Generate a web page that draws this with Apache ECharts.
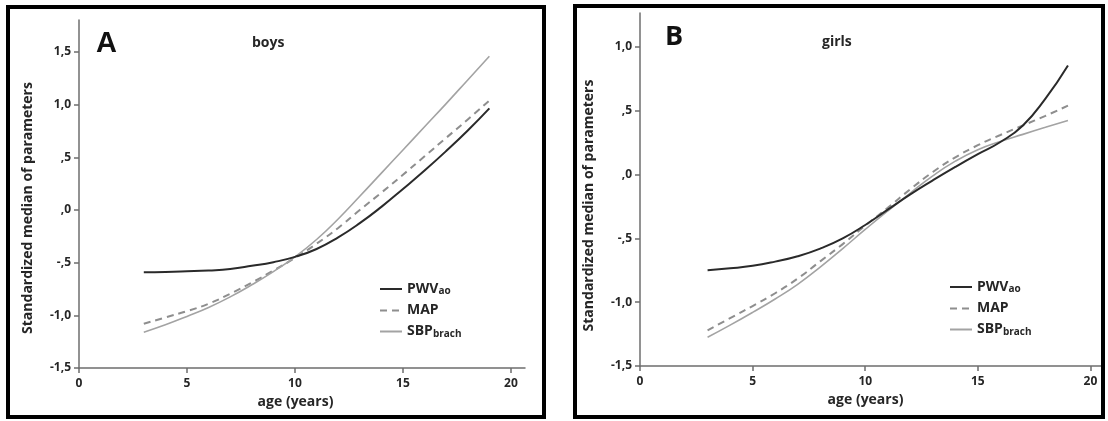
<!DOCTYPE html>
<html>
<head>
<meta charset="utf-8">
<script src="https://cdn.jsdelivr.net/npm/echarts@6/dist/echarts.min.js"></script>
<style>
html,body{margin:0;padding:0;background:#fff;}
#chart{width:1108px;height:421px;}
</style>
</head>
<body>
<div id="chart"></div>
<script>
// ---- data ----
const ages      = [3, 4, 5, 6, 7, 8, 9, 10, 11, 12, 13, 14, 15, 16, 17, 18, 19];
const boysPWV   = [-0.59, -0.588, -0.582, -0.574, -0.56, -0.53, -0.495, -0.445, -0.37, -0.26, -0.125, 0.03, 0.2, 0.375, 0.56, 0.755, 0.965];
const boysMAP   = [-1.08, -1.02, -0.96, -0.89, -0.795, -0.69, -0.575, -0.455, -0.32, -0.17, 0.0, 0.165, 0.335, 0.51, 0.685, 0.86, 1.04];
const boysSBP   = [-1.16, -1.09, -1.01, -0.925, -0.825, -0.71, -0.585, -0.445, -0.28, -0.085, 0.13, 0.35, 0.57, 0.79, 1.01, 1.235, 1.46];
const girlsPWV  = [-0.75, -0.735, -0.715, -0.682, -0.64, -0.58, -0.50, -0.395, -0.275, -0.155, -0.045, 0.06, 0.16, 0.255, 0.385, 0.595, 0.855];
const girlsMAP  = [-1.22, -1.125, -1.03, -0.93, -0.815, -0.68, -0.545, -0.40, -0.26, -0.115, 0.02, 0.135, 0.23, 0.31, 0.385, 0.46, 0.54];
const girlsSBP  = [-1.275, -1.18, -1.08, -0.975, -0.86, -0.725, -0.58, -0.43, -0.285, -0.145, -0.01, 0.105, 0.195, 0.26, 0.315, 0.37, 0.423];
const xTicks    = [0, 5, 10, 15, 20];
const boysYTicks  = [-1.5, -1.0, -0.5, 0, 0.5, 1.0, 1.5];
const girlsYTicks = [-1.5, -1.0, -0.5, 0, 0.5, 1.0];
const seriesNames = ['PWV', 'MAP', 'SBP'];
const legendLabels = { PWV: 'PWV{s|ao}', MAP: 'MAP', SBP: 'SBP{s|brach}' };
const panelLetters = ['A', 'B'];
const panelTitles = ['boys', 'girls'];
const yTitle = 'Standardized median of parameters';
const xTitle = 'age (years)';

// ---- helpers ----
const pair = (xs, ys) => xs.map((x, i) => [x, ys[i]]);
const fmtY = v => {
  let s = Math.abs(v).toFixed(1).replace('.', ',');
  if (s.startsWith('0')) s = s.slice(1);
  return (v < 0 ? '-' : '') + s;
};
const FONT = '"Open Sans", "DejaVu Sans", sans-serif';
const TXT = '#262626';
const AXIS = '#6e6e6e';

function xAxisDef(gridIndex, max) {
  return {
    type: 'value', gridIndex, min: 0, max,
    name: xTitle, nameLocation: 'middle', nameGap: 26,
    nameTextStyle: { fontFamily: FONT, fontWeight: 'bold', fontSize: 14, color: TXT, padding: [0, 13, 0, 0] },
    axisLine: { onZero: false, lineStyle: { color: AXIS, width: 1.5 } },
    axisTick: { show: true, length: 5, lineStyle: { color: AXIS, width: 1.5 }, customValues: xTicks },
    axisLabel: { customValues: xTicks, margin: 10, fontFamily: FONT, fontWeight: 'bold', fontSize: 12, color: TXT },
    splitLine: { show: false }
  };
}
function yAxisDef(gridIndex, max, ticks, shift) {
  return {
    type: 'value', gridIndex, min: -1.5, max,
    name: yTitle, nameLocation: 'middle', nameGap: 44,
    nameTextStyle: { fontFamily: FONT, fontWeight: 'bold', fontSize: 14, color: TXT, padding: [0, shift, 0, 0] },
    axisLine: { show: true, onZero: false, lineStyle: { color: AXIS, width: 1.5 } },
    axisTick: { show: true, length: 5, lineStyle: { color: AXIS, width: 1.5 }, customValues: ticks },
    axisLabel: { customValues: ticks, margin: 8, formatter: fmtY, fontFamily: FONT, fontWeight: 'bold', fontSize: 12, color: TXT },
    splitLine: { show: false }
  };
}
const styles = {
  PWV: { color: '#2a2a2a', width: 2, type: 'solid' },
  MAP: { color: '#8e8e8e', width: 2, type: [7, 5] },
  SBP: { color: '#a3a3a3', width: 1.6, type: 'solid' }
};
function lineSeries(name, idx, ys) {
  const st = styles[name];
  return {
    name, type: 'line', xAxisIndex: idx, yAxisIndex: idx,
    data: pair(ages, ys), smooth: 0.5, symbol: 'none', showSymbol: false,
    color: st.color,
    lineStyle: { color: st.color, width: st.width, type: st.type },
    z: name === 'PWV' ? 5 : 3
  };
}
function legendDef(left, top) {
  return {
    left, top, orient: 'vertical', itemWidth: 22, itemHeight: 14, itemGap: 7,
    selectedMode: false, data: seriesNames,
    itemStyle: { opacity: 0 },
    formatter: n => legendLabels[n],
    textStyle: {
      fontFamily: FONT, fontWeight: 'bold', fontSize: 14, color: TXT,
      rich: { s: { fontFamily: FONT, fontWeight: 'bold', fontSize: 10, color: TXT, padding: [5, 0, 0, 0] } }
    }
  };
}

const chart = echarts.init(document.getElementById('chart'), null, { renderer: 'canvas' });
chart.setOption({
  animation: false,
  backgroundColor: '#fff',
  grid: [
    { left: 79, top: 20, width: 446, height: 348 },
    { left: 640, top: 13, width: 464, height: 353 }
  ],
  xAxis: [xAxisDef(0, 20.65), xAxisDef(1, 20.6)],
  yAxis: [yAxisDef(0, 1.804, boysYTicks, 28), yAxisDef(1, 1.266, girlsYTicks, 32)],
  legend: [legendDef(374, 277), legendDef(944, 275)],
  series: [
    lineSeries('PWV', 0, boysPWV), lineSeries('MAP', 0, boysMAP), lineSeries('SBP', 0, boysSBP),
    lineSeries('PWV', 1, girlsPWV), lineSeries('MAP', 1, girlsMAP), lineSeries('SBP', 1, girlsSBP)
  ],
  graphic: [
    { type: 'rect', shape: { x: 8, y: 7, width: 536, height: 410 }, style: { fill: 'none', stroke: '#000', lineWidth: 4 }, z: 100 },
    { type: 'rect', shape: { x: 575, y: 6, width: 528, height: 411 }, style: { fill: 'none', stroke: '#000', lineWidth: 4 }, z: 100 },
    { type: 'text', left: 96, top: 29, style: { text: panelLetters[0], font: 'bold 29px "Liberation Sans", Arial, sans-serif', fill: '#111' } },
    { type: 'text', left: 665, top: 24, style: { text: panelLetters[1], font: 'bold 27px "Open Sans", sans-serif', fill: '#111' } },
    { type: 'text', left: 252, top: 36, style: { text: panelTitles[0], font: 'bold 14px "Open Sans", sans-serif', fill: TXT } },
    { type: 'text', left: 822, top: 35, style: { text: panelTitles[1], font: 'bold 14px "Open Sans", sans-serif', fill: TXT } }
  ]
});
</script>
</body>
</html>
